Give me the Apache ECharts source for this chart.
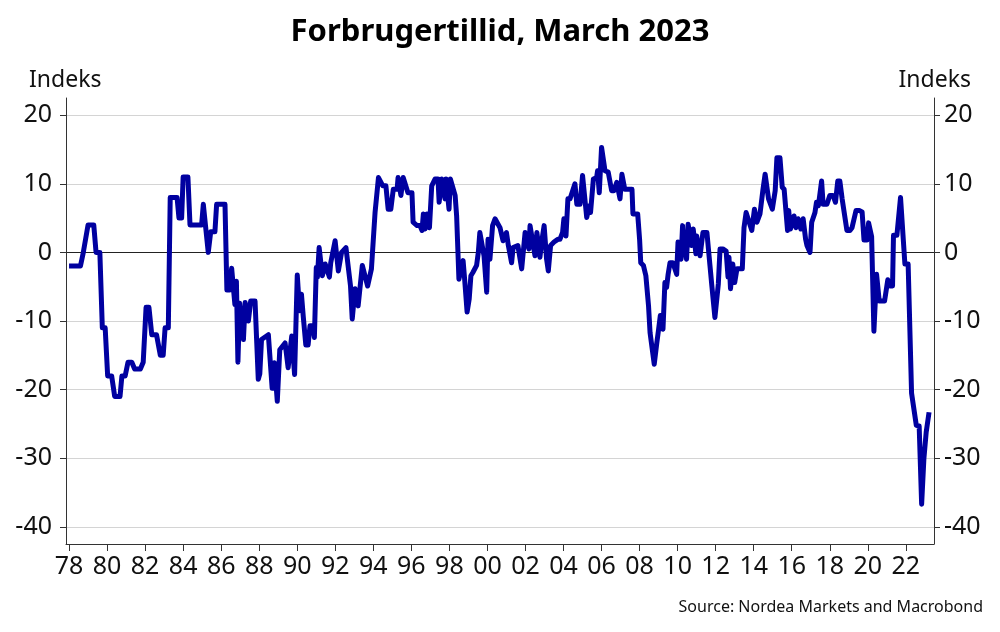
<!DOCTYPE html>
<html>
<head>
<meta charset="utf-8">
<title>Forbrugertillid, March 2023</title>
<script src="https://cdn.jsdelivr.net/npm/echarts@6/dist/echarts.min.js"></script>
<style>
  html, body { margin: 0; padding: 0; background: #fff; }
  #chart { width: 1000px; height: 632px; }
</style>
</head>
<body>
<div id="chart"></div>
<script>
// consumer confidence (x in decimal years)
const dates = [
  1978.00, 1978.60, 1978.75, 1979.00, 1979.30, 1979.42, 1979.62, 1979.75, 1979.90, 1980.03,
  1980.24, 1980.40, 1980.68, 1980.78, 1980.95, 1981.10, 1981.30, 1981.45, 1981.75, 1981.90,
  1982.05, 1982.20, 1982.35, 1982.60, 1982.80, 1982.95, 1983.05, 1983.22, 1983.32, 1983.68,
  1983.78, 1983.92, 1984.00, 1984.25, 1984.36, 1984.97, 1985.06, 1985.15, 1985.32, 1985.45,
  1985.67, 1985.76, 1986.20, 1986.30, 1986.45, 1986.55, 1986.62, 1986.72, 1986.80, 1986.88,
  1986.97, 1987.05, 1987.17, 1987.26, 1987.43, 1987.55, 1987.78, 1987.87, 1987.95, 1988.03,
  1988.12, 1988.22, 1988.48, 1988.68, 1988.80, 1988.95, 1989.08, 1989.15, 1989.36, 1989.52,
  1989.60, 1989.71, 1989.86, 1990.00, 1990.12, 1990.22, 1990.32, 1990.45, 1990.57, 1990.67,
  1990.83, 1990.90, 1991.00, 1991.06, 1991.15, 1991.23, 1991.32, 1991.47, 1991.55, 1991.69,
  1991.76, 1991.99, 1992.16, 1992.33, 1992.56, 1992.66, 1992.80, 1992.89, 1993.04, 1993.20,
  1993.42, 1993.52, 1993.70, 1993.78, 1993.90, 1994.00, 1994.09, 1994.27, 1994.35, 1994.50,
  1994.66, 1994.78, 1994.92, 1995.05, 1995.25, 1995.30, 1995.45, 1995.57, 1995.67, 1995.82,
  1996.03, 1996.09, 1996.30, 1996.45, 1996.56, 1996.63, 1996.72, 1996.82, 1996.95, 1997.07,
  1997.25, 1997.40, 1997.46, 1997.60, 1997.67, 1997.77, 1997.82, 1997.98, 1998.05, 1998.14,
  1998.30, 1998.38, 1998.50, 1998.60, 1998.72, 1998.80, 1998.93, 1999.04, 1999.13, 1999.24,
  1999.43, 1999.52, 1999.60, 1999.70, 1999.82, 1999.96, 2000.03, 2000.13, 2000.27, 2000.40,
  2000.50, 2000.66, 2000.82, 2001.00, 2001.10, 2001.27, 2001.35, 2001.60, 2001.80, 2001.98,
  2002.08, 2002.18, 2002.24, 2002.33, 2002.50, 2002.60, 2002.66, 2002.76, 2002.85, 2002.98,
  2003.03, 2003.11, 2003.20, 2003.32, 2003.50, 2003.70, 2003.81, 2003.95, 2004.02, 2004.13,
  2004.23, 2004.34, 2004.40, 2004.60, 2004.70, 2004.87, 2005.00, 2005.05, 2005.22, 2005.36,
  2005.42, 2005.57, 2005.74, 2005.79, 2005.88, 2006.00, 2006.18, 2006.35, 2006.53, 2006.65,
  2006.80, 2006.97, 2007.07, 2007.13, 2007.22, 2007.60, 2007.65, 2007.90, 2008.00, 2008.06,
  2008.20, 2008.33, 2008.47, 2008.55, 2008.63, 2008.77, 2008.90, 2009.00, 2009.09, 2009.23,
  2009.33, 2009.42, 2009.50, 2009.60, 2009.75, 2009.95, 2010.02, 2010.12, 2010.18, 2010.26,
  2010.30, 2010.47, 2010.55, 2010.65, 2010.73, 2010.82, 2010.96, 2011.00, 2011.18, 2011.33,
  2011.54, 2011.70, 2011.80, 2011.96, 2012.05, 2012.14, 2012.23, 2012.38, 2012.55, 2012.65,
  2012.70, 2012.78, 2012.90, 2013.00, 2013.12, 2013.40, 2013.49, 2013.60, 2013.70, 2013.90,
  2013.96, 2014.04, 2014.10, 2014.17, 2014.33, 2014.48, 2014.60, 2014.70, 2014.78, 2014.98,
  2015.05, 2015.13, 2015.22, 2015.38, 2015.50, 2015.60, 2015.78, 2015.84, 2015.93, 2016.12,
  2016.22, 2016.34, 2016.48, 2016.60, 2016.73, 2016.80, 2016.96, 2017.05, 2017.22, 2017.30,
  2017.40, 2017.57, 2017.65, 2017.85, 2018.00, 2018.17, 2018.30, 2018.42, 2018.53, 2018.65,
  2018.90, 2019.06, 2019.17, 2019.38, 2019.55, 2019.70, 2019.80, 2019.96, 2020.04, 2020.12,
  2020.20, 2020.32, 2020.46, 2020.60, 2020.88, 2021.05, 2021.16, 2021.30, 2021.35, 2021.53,
  2021.72, 2021.95, 2022.12, 2022.30, 2022.55, 2022.70, 2022.83, 2022.95, 2023.07, 2023.22
];
const values = [
  -2, -2, 0, 4, 4, 0, 0, -11, -11, -18,
  -18, -21, -21, -18, -18, -16, -16, -17, -17, -16,
  -8, -8, -12, -12, -15, -15, -11, -11, 8, 8,
  5, 5, 11, 11, 4, 4, 7, 7, 0, 3,
  3, 7, 7, -5.5, -5.5, -2.3, -2.3, -7.6, -4.2, -16,
  -7.4, -7.4, -12.7, -7.3, -10, -7.1, -7.1, -13.2, -18.5, -17.7,
  -12.7, -12.7, -12, -19.8, -16.1, -21.7, -14.2, -14.2, -13.2, -16.8,
  -16.8, -12.2, -17.8, -3.3, -8.5, -6.1, -9.5, -13.5, -13.5, -10.7,
  -10.7, -12.4, -2.2, -3.6, 0.7, 0.7, -3.4, -1.7, -1.7, -3.6,
  -1.5, 1.7, -2.7, 0, 0.7, 0.7, -4.9, -9.7, -5.3, -7.8,
  -1.9, -1.9, -4.9, -4.9, -2.4, -2.4, 5.8, 10.9, 10.9, 9.7,
  9.7, 6.3, 6.3, 9.2, 9.2, 10.9, 8.3, 10.9, 10.9, 8.7,
  8.7, 4.4, 3.9, 3.9, 3.2, 5.6, 3.4, 5.6, 3.6, 9.7,
  10.7, 10.7, 7.3, 10.7, 10.7, 7.8, 10.7, 6.3, 10.7, 10.7,
  8.3, 5.3, -3.9, -3.9, -1.2, -3.9, -8.7, -6.8, -3.4, -2.9,
  -1.9, 0, 2.9, 2.9, -0.5, -5.8, 1.9, -1, 3.9, 4.9,
  4.9, 3.6, 1.7, 2.9, 1, -1.5, 0.7, 1, -2.4, 2.9,
  2.9, 0.5, 3.9, 3.9, -0.5, 2.9, 2.9, -0.7, 1.5, 3.9,
  3.9, -1, -2.7, 1, 1.5, 1.9, 1.9, 2.9, 4.9, 2.4,
  7.8, 7.8, 8.3, 10, 7, 7, 11.2, 11.2, 5.1, 6.8,
  5.8, 10.7, 10.9, 11.9, 8.7, 15.3, 11.9, 11.7, 9, 9,
  10.2, 7.8, 11.4, 11.4, 9.2, 9.2, 5.6, 5.6, 1.9, -1.5,
  -1.9, -3.4, -7.8, -11.7, -11.9, -16.3, -13.3, -11.2, -9.2, -11.2,
  -4.4, -5.1, -3.2, -1.5, -1.5, -3.2, 1.5, 1.5, -1, 3.9,
  1.9, -1, 4.1, 4.1, 1, 3.4, -0.2, 2.4, -0.5, 2.9,
  2.9, -1.9, -4.9, -9.5, -9.5, -4.6, 0.5, 0.5, 0.2, -3.6,
  -0.7, -5.3, -1.7, -4.4, -2.4, -2.4, 3.6, 5.8, 5.8, 3.2,
  3.2, 6.3, 6.3, 4.4, 5.6, 9, 11.4, 11.4, 7.8, 6.3,
  6.3, 9, 13.8, 13.8, 9.5, 9.2, 3.2, 6.1, 3.4, 5.3,
  3.6, 4.9, 3.4, 4.9, 1.9, 1, 0, 4.4, 5.8, 7.3,
  6.8, 10.4, 7, 7, 8.3, 8.3, 7.3, 10.4, 10.4, 7.8,
  3.2, 3.2, 3.6, 6.1, 6.1, 5.9, 1.8, 1.8, 4.3, 4.3,
  2.3, -11.5, -3.2, -7.1, -7.1, -4, -4.9, -4.9, 2.5, 2.5,
  8, -1.7, -1.7, -20.5, -25.2, -25.3, -36.7, -30, -26.2, -23.3
];
const yearTicks = [1978, 1980, 1982, 1984, 1986, 1988, 1990, 1992, 1994, 1996, 1998, 2000,
  2002, 2004, 2006, 2008, 2010, 2012, 2014, 2016, 2018, 2020, 2022];
const valueTicks = [-40, -30, -20, -10, 0, 10, 20];

const chart = echarts.init(document.getElementById('chart'));

const font = 'Noto Sans';
const axisColor = '#333';

const yAxisBase = {
  type: 'value',
  min: -42.5,
  max: 22.5,
  axisLine: { show: true, lineStyle: { color: axisColor, width: 1 } },
  axisTick: { show: true, customValues: valueTicks, length: 6, lineStyle: { color: axisColor } },
  axisLabel: { customValues: valueTicks, fontFamily: font, fontSize: 25, color: '#111' },
};

chart.setOption({
  animation: false,
  title: [
    {
      text: 'Forbrugertillid, March 2023',
      left: 'center',
      top: 12,
      textStyle: { fontFamily: font, fontWeight: 'bold', fontSize: 31, color: '#000' }
    },
    { text: 'Indeks', left: 24, top: 64, textStyle: { fontFamily: font, fontWeight: 'normal', fontSize: 23, color: '#111' } },
    { text: 'Indeks', right: 24, top: 64, textStyle: { fontFamily: font, fontWeight: 'normal', fontSize: 23, color: '#111' } },
    { text: 'Source: Nordea Markets and Macrobond', right: 12, top: 594, textStyle: { fontFamily: font, fontWeight: 'normal', fontSize: 16, color: '#111' } }
  ],
  grid: { left: 66, right: 66, top: 98, bottom: 88, containLabel: false },
  xAxis: {
    type: 'value',
    min: 1977.84,
    max: 2023.48,
    axisLine: { show: true, onZero: false, lineStyle: { color: axisColor, width: 1 } },
    axisTick: { show: true, customValues: yearTicks, length: 7, lineStyle: { color: axisColor } },
    axisLabel: {
      customValues: yearTicks,
      formatter: v => String(v).slice(2),
      fontFamily: font, fontSize: 25, color: '#111', margin: 10
    },
    splitLine: { show: false }
  },
  yAxis: [
    Object.assign({}, yAxisBase, {
      position: 'left',
      axisLabel: Object.assign({}, yAxisBase.axisLabel, { margin: 14 }),
      splitLine: {
        show: true,
        customValues: valueTicks,
        lineStyle: { color: ['#d4d4d4', '#d4d4d4', '#d4d4d4', '#d4d4d4', '#222', '#d4d4d4', '#d4d4d4'], width: 1 }
      }
    }),
    Object.assign({}, yAxisBase, {
      position: 'right',
      axisLabel: Object.assign({}, yAxisBase.axisLabel, { margin: 10 }),
      splitLine: { show: false }
    })
  ],
  series: [
    {
      type: 'line',
      data: dates.map((d, i) => [d, values[i]]),
      showSymbol: false,
      symbol: 'none',
      lineStyle: { color: '#0000a0', width: 5, join: 'round' },
      z: 5
    }
  ]
});
</script>
</body>
</html>
